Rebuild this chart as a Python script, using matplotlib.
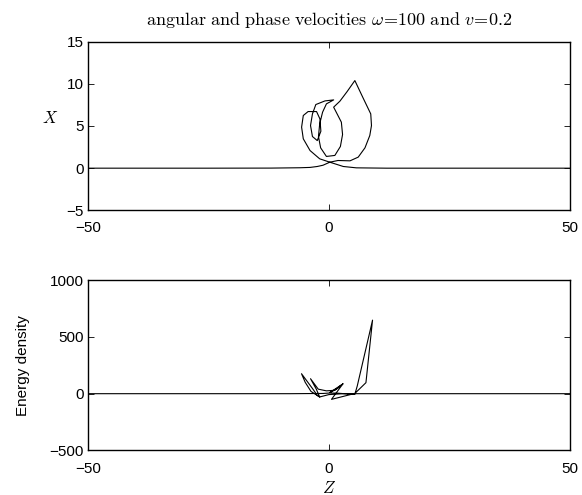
import numpy as np
import matplotlib.pyplot as plt

plt.rcParams['font.family'] = ['Liberation Sans', 'DejaVu Sans']
plt.rcParams['mathtext.fontset'] = 'cm'

# trajectory of the particle in the (Z, X) plane
z_path = [-50, -25, -12, -6, -3.9, -2.4, -1.2, 0.2,
          1.9, 4.4, 6.1, 7.5, 8.5, 8.85, 8.7, 7.1, 5.4,
          3.8, 2.3, 1.0, 2.6,
          2.85, 2.4, 1.25, -0.5, -1.7, -2.15, -1.9, -1.3, -0.5, 1.0,
          -0.8, -2.7, -3.4, -3.8, -3.4, -2.4, -1.65, -1.85, -2.55,
          -4.3, -5.3, -5.65, -5.3, -3.9, -1.9, 0.2, 3.0, 5.7, 12, 25, 50]
x_path = [0, 0, 0.01, 0.05, 0.09, 0.2, 0.35, 0.71,
          0.91, 0.87, 1.31, 2.41, 3.87, 5.05, 6.43, 8.33, 10.38,
          9.08, 7.94, 7.23, 5.45,
          3.99, 2.57, 1.51, 1.39, 2.41, 3.75, 5.24, 6.63, 7.62, 8.09,
          7.97, 7.54, 6.43, 5.05, 3.75, 3.27, 4.38, 5.84, 6.71,
          6.71, 6.24, 4.86, 3.48, 2.09, 1.11, 0.71, 0.2, 0.04, 0, 0, 0]

# energy density along the trajectory
z_energy = [-50, -8, -1.2, 0.2, 2.0, 4.4, 5.4, 5.9, 9.07, 7.7, 5.4, 0.55,
            2.84, 1.6, 0.2, 2.97, 1.2, -0.5, -2.2, -3.8, -2.6, -1.9,
            -2.4, -3.3, -5.67, -4.9, -3.7, -1.9, 0.0, 3.0, 6.0, 50]
energy = [0, 0, 2, 6, 4, -4, -5, 68, 648, 97, 2, -50,
          82, 40, 10, 88, 30, 25, 40, 132, 40, -29,
          -15, 40, 176, 100, 20, -29, -8, 0, 0, 0]

fig = plt.figure(figsize=(5.82, 4.95), dpi=100)
ax1 = fig.add_axes([0.151, 0.575, 0.828, 0.341])
ax2 = fig.add_axes([0.151, 0.090, 0.828, 0.344])

ax1.plot(z_path, x_path, color='black', lw=0.8)
ax1.set_xlim(-50, 50)
ax1.set_ylim(-5, 15)
ax1.set_xticks([-50, 0, 50])
ax1.set_yticks([-5, 0, 5, 10, 15])
ax1.set_ylabel('$X$', rotation=0, fontsize=12, labelpad=12)
ax1.set_title(r'$\mathrm{angular\ and\ phase\ velocities\ }\omega\!=\!100\mathrm{\ and\ }v\!=\!0.2$',
              fontsize=13, pad=12)

ax2.plot(z_energy, energy, color='black', lw=0.8)
ax2.set_xlim(-50, 50)
ax2.set_ylim(-500, 1000)
ax2.set_xticks([-50, 0, 50])
ax2.set_yticks([-500, 0, 500, 1000])
ax2.set_ylabel('Energy density', fontsize=11, labelpad=14)
ax2.set_xlabel('$Z$', fontsize=12, labelpad=3)

for ax in (ax1, ax2):
    ax.tick_params(direction='in', length=4, width=0.6, labelsize=11,
                   top=True, right=True)
    ax.tick_params(axis='x', pad=8)
    ax.tick_params(axis='y', pad=3)
    for s in ax.spines.values():
        s.set_linewidth(1.0)

fig.savefig('out.png', dpi=100)
